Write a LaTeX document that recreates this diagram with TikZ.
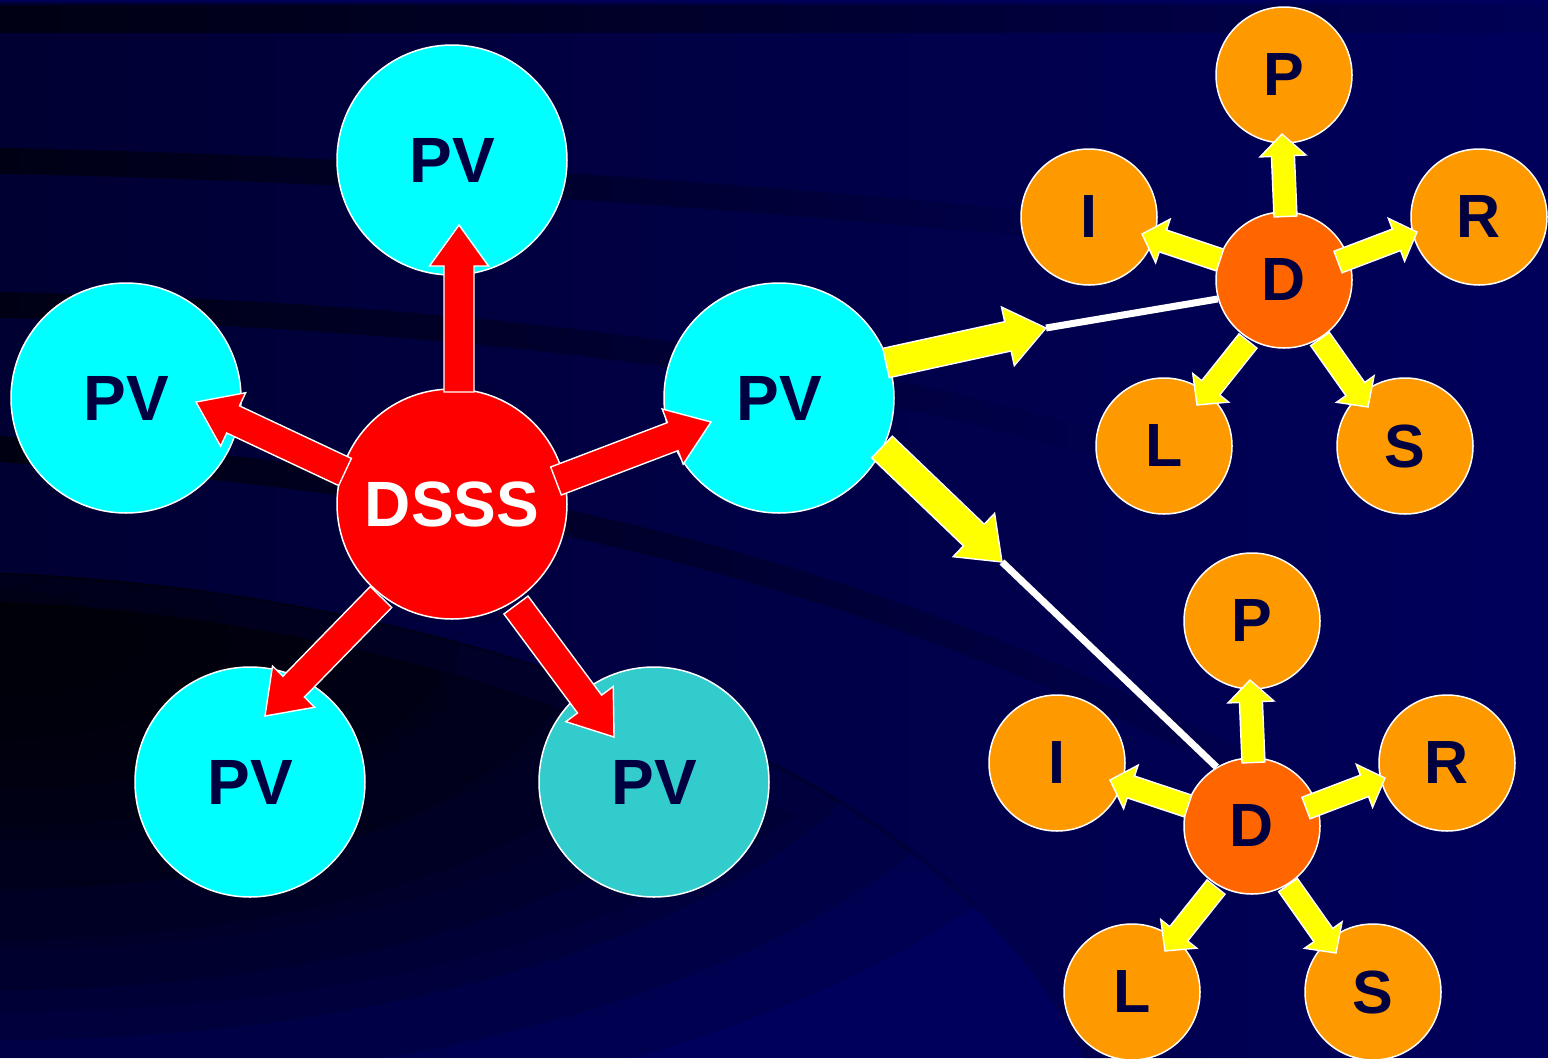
\documentclass[tikz,border=0pt]{standalone}
\usepackage{fontspec}
\setmainfont{Liberation Sans}
\usetikzlibrary{calc,fadings}
\definecolor{bgnavy}{RGB}{0,0,92}
\definecolor{txtnavy}{RGB}{0,0,64}
\definecolor{pvcyan}{RGB}{0,255,255}
\definecolor{pvteal}{RGB}{51,204,204}
\definecolor{dsssred}{RGB}{255,0,0}
\definecolor{leaforange}{RGB}{255,153,0}
\definecolor{dorange}{RGB}{255,102,0}
\definecolor{arryellow}{RGB}{255,255,0}
\tikzfading[name=bandfade, left color=transparent!0, right color=transparent!100]

% block arrow: #1 start, #2 tip, #3 half shaft, #4 half head, #5 head length, #6 style
\newcommand\blockarrow[6]{%
  \coordinate (hb) at ($(#2)!#5!(#1)$);
  \path[#6] ($(#1)!#3!90:(#2)$) -- ($(hb)!#3!-90:(#1)$) -- ($(hb)!#4!-90:(#1)$)
    -- (#2) -- ($(hb)!#4!90:(#1)$) -- ($(hb)!#3!90:(#1)$) -- ($(#1)!#3!-90:(#2)$) -- cycle;
}
% cluster of D with five leaves: #1 prefix, #2 x, #3 y
\newcommand\dcluster[3]{%
  \node[smallnode, fill=dorange] (#1D) at (#2,#3) {D};
  \node[smallnode, fill=leaforange] (#1P) at ($(#1D)+(0,-205)$) {P};
  \node[smallnode, fill=leaforange] (#1I) at ($(#1D)+(-195,-63)$) {I};
  \node[smallnode, fill=leaforange] (#1R) at ($(#1D)+(195,-63)$) {R};
  \node[smallnode, fill=leaforange] (#1L) at ($(#1D)+(-120,166)$) {L};
  \node[smallnode, fill=leaforange] (#1S) at ($(#1D)+(121,166)$) {S};
  \coordinate (#1us) at ($(#1D)+(1.5,-63.5)$); \coordinate (#1ut) at ($(#1D)+(-2,-146)$);
  \coordinate (#1rs) at ($(#1D)+(54,-18)$);    \coordinate (#1rt) at ($(#1D)+(133,-48)$);
  \coordinate (#1ls) at ($(#1D)+(-64,-20)$);   \coordinate (#1lt) at ($(#1D)+(-142,-46)$);
  \coordinate (#1as) at ($(#1D)+(-36,61)$);    \coordinate (#1at) at ($(#1D)+(-87,125)$);
  \coordinate (#1bs) at ($(#1D)+(36,59)$);     \coordinate (#1bt) at ($(#1D)+(84,127)$);
}
\newcommand\dclusterarrows[1]{%
  \blockarrow{#1us}{#1ut}{11.5pt}{23pt}{22pt}{yelarrow}
  \blockarrow{#1rs}{#1rt}{11.5pt}{23pt}{22pt}{yelarrow}
  \blockarrow{#1ls}{#1lt}{11.5pt}{23pt}{22pt}{yelarrow}
  \blockarrow{#1as}{#1at}{11.5pt}{23pt}{22pt}{yelarrow}
  \blockarrow{#1bs}{#1bt}{11.5pt}{23pt}{22pt}{yelarrow}
}

\begin{document}
\begin{tikzpicture}[x=1pt,y=-1pt,
  bignode/.style={circle, draw=white, line width=1.5pt, minimum size=230pt, inner sep=0pt,
    text=txtnavy, font=\bfseries\fontsize{64}{64}\selectfont},
  smallnode/.style={circle, draw=white, line width=1.5pt, minimum size=136pt, inner sep=0pt,
    text=txtnavy, font=\bfseries\fontsize{61}{61}\selectfont},
  redarrow/.style={fill=dsssred, draw=white, line width=1.4pt, line join=miter},
  yelarrow/.style={fill=arryellow, draw=white, line width=1.4pt, line join=miter},
  link/.style={draw=white, line width=7pt},
  band/.style={draw=black, line width=26pt, path fading=bandfade},
]
\useasboundingbox (0,0) rectangle (1548,1058);
% ---------- background ----------
\fill[bgnavy] (0,0) rectangle (1548,1058);
\begin{scope}
  \clip (0,0) rectangle (1548,1058);
  \fill[black, opacity=0.45, path fading=bandfade]
    (0,573) .. controls (450,590) and (950,760) .. (1090,1058) -- (1548,1058) -- (1548,0) -- (0,0) -- cycle;
  \fill[black, opacity=0.6, path fading=bandfade] (0,5) rectangle (1700,33);
  \draw[band, opacity=0.6] (-50,160) .. controls (300,165) and (700,190) .. (1150,235);
  \draw[band, opacity=0.6] (-50,304) .. controls (350,310) and (800,345) .. (1150,460);
  \draw[band, opacity=0.65] (-50,446) .. controls (400,470) and (850,540) .. (1350,820);
  \begin{scope}
    \clip (0,573) .. controls (450,590) and (950,760) .. (1090,1058) -- (0,1058) -- cycle;
    \foreach \k in {1,...,10} {
      \fill[black, opacity=0.12] (0,640) ellipse ({115*\k} and {50*\k});
    }
  \end{scope}
  \begin{scope}
    \clip (0,602) .. controls (420,618) and (900,785) .. (1045,1058) -- (0,1058) -- cycle;
    \foreach \k in {1,...,6} {
      \fill[black, opacity=0.1] (0,640) ellipse ({150*\k} and {62*\k});
    }
  \end{scope}
\end{scope}

% ---------- nodes ----------
\node[bignode, fill=pvcyan] (pvtop) at (452,160) {PV};
\node[bignode, fill=pvcyan] (pvleft) at (126,398) {PV};
\node[bignode, fill=pvcyan] (pvright) at (779,398) {PV};
\node[bignode, fill=pvcyan] (pvbl) at (250,782) {PV};
\node[bignode, fill=pvteal] (pvbr) at (654,782) {PV};
\node[bignode, fill=dsssred, text=white] (dsss) at (452,504) {DSSS};

\dcluster{t}{1284}{280}
\dcluster{b}{1252}{826}

% ---------- connector coordinates ----------
\coordinate (rUs) at (459,392);  \coordinate (rUt) at (459,225);
\coordinate (rRs) at (556,481);  \coordinate (rRt) at (711,422);
\coordinate (rLs) at (345,472);  \coordinate (rLt) at (196,402);
\coordinate (rAs) at (381,597);  \coordinate (rAt) at (265,716);
\coordinate (rBs) at (516,605);  \coordinate (rBt) at (614,737);
\coordinate (yTs) at (886,363);  \coordinate (yTt) at (1046,328);
\coordinate (yBs) at (882,447);  \coordinate (yBt) at (1002,562);

% white links
\draw[link] (yTt) -- (tD.196);
\draw[link] (yBt) -- (bD.121);

% red arrows
\blockarrow{rUs}{rUt}{15pt}{29.5pt}{41pt}{redarrow}
\blockarrow{rRs}{rRt}{15pt}{29.5pt}{41pt}{redarrow}
\blockarrow{rLs}{rLt}{15pt}{29.5pt}{41pt}{redarrow}
\blockarrow{rAs}{rAt}{15pt}{29.5pt}{41pt}{redarrow}
\blockarrow{rBs}{rBt}{15pt}{29.5pt}{41pt}{redarrow}
% yellow arrows
\blockarrow{yTs}{yTt}{15pt}{30pt}{39pt}{yelarrow}
\blockarrow{yBs}{yBt}{15pt}{30pt}{39pt}{yelarrow}
\dclusterarrows{t}
\dclusterarrows{b}
\end{tikzpicture}
\end{document}
